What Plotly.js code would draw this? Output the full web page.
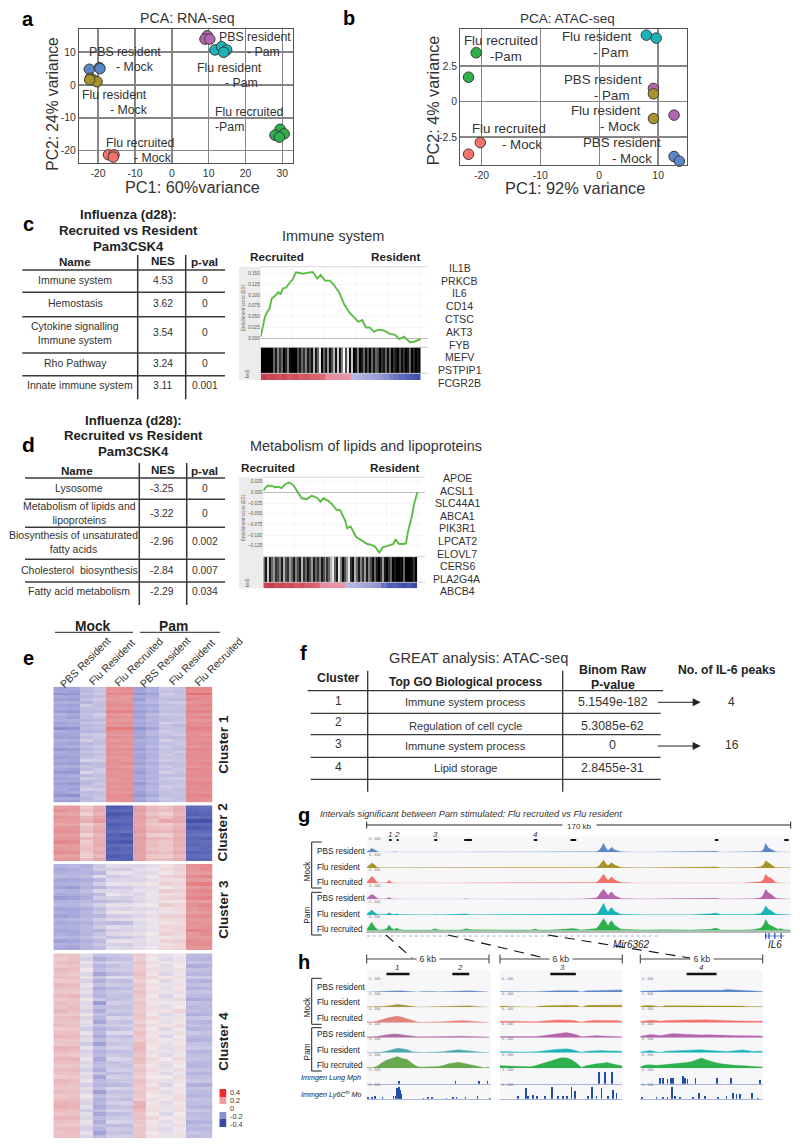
<!DOCTYPE html>
<html><head><meta charset="utf-8">
<script src="https://cdn.plot.ly/plotly-3.0.1.min.js"></script>
<style>html,body{margin:0;padding:0;background:#fff}#plot{width:800px;height:1147px}</style>
</head><body><div id="plot"></div>
<script>
// ---------- PCA values ----------
const rnaPbsMockX=[-22.4,-19.7,-19.5], rnaPbsMockY=[4.8,5.3,5.0];
const rnaFluMockX=[-22.1,-21.4,-20.3,-22.3], rnaFluMockY=[2.1,1.6,1.0,1.6];
const rnaPbsPamX=[9.6,9,10.3], rnaPbsPamY=[15,14,14];
const rnaFluPamX=[11.7,13.5,14.9,14.1], rnaFluPamY=[10.7,11.7,10.7,10];
const rnaRecPamX=[29.4,28,30.5,29.2], rnaRecPamY=[-13.5,-15.3,-14.9,-15.9];
const rnaRecMockX=[-17.2,-15.7,-15.9], rnaRecMockY=[-21.3,-21.3,-22];
const atacFluPamX=[8.0,9.66], atacFluPamY=[4.67,4.46];
const atacRecPamX=[-20.9,-22.2], atacRecPamY=[3.43,1.71];
const atacPbsPamX=[9.2,12.7], atacPbsPamY=[0.92,-0.96];
const atacFluMockX=[9.2,9.2], atacFluMockY=[0.54,-1.2];
const atacRecMockX=[-20.2,-22.2], atacRecMockY=[-2.89,-3.71];
const atacPbsMockX=[12.7,13.6], atacPbsMockY=[-3.87,-4.2];
// ---------- Tables ----------
const cNames=['Immune system','Hemostasis','Cytokine signalling<br>Immune system','Rho Pathway','Innate immune system'];
const cNes=['4.53','3.62','3.54','3.24','3.11'];
const cPval=['0','0','0','0','0.001'];
const dNames=['Lysosome','Metabolism of lipids and<br>lipoproteins','Biosynthesis of unsaturated<br>fatty acids','Cholesterol  biosynthesis','Fatty acid metabolism'];
const dNes=['-3.25','-3.22','-2.96','-2.84','-2.29'];
const dPval=['0','0','0.002','0.007','0.034'];
const fCluster=['1','2','3','4'];
const fProcess=['Immune system process','Regulation of cell cycle','Immune system process','Lipid storage'];
const fPvalue=['5.1549e-182','5.3085e-62','0','2.8455e-31'];
// ---------- GSEA ----------
const cRank=[0,1,2.7,4.2,5.4,6.9,9,11,12.5,13.8,15.8,17.9,20,22,24.2,26.3,28.8,32.5,35.4,37.5,40.2,43.3,45.8,49.2,52.1,55.8,59,61,63.5,65.8,68.3,70.8,73.5,77,80.8,84,86.7,89.6,93.3,95.8,100];
const cES=[.004,.023,.05,.062,.067,.092,.098,.106,.102,.115,.117,.127,.136,.152,.151,.149,.151,.153,.138,.146,.133,.133,.123,.105,.079,.058,.046,.038,.042,.025,.025,.015,.02,.018,.01,.008,-.002,.004,-.009,-.008,-.002];
const dRank=[0,1.7,3.2,5.4,7.6,9.7,11.9,14.1,16.9,19.5,21.6,24.9,28.1,31.4,34.6,37.2,39,42.2,44.4,47.6,49.8,53,54.5,56.7,60.2,63.9,67.5,70.3,72.5,75.3,77.5,81.2,84.4,85.9,87.7,89.8,92.6,94.2,96.3,97.8,100];
const dES=[.004,.012,.016,.015,.012,.013,.01,.019,.023,.017,.005,-.014,-.016,-.008,-.012,-.022,-.014,-.02,-.027,-.041,-.041,-.065,-.084,-.08,-.104,-.113,-.121,-.123,-.127,-.141,-.129,-.125,-.121,-.11,-.12,-.121,-.12,-.088,-.059,-.03,0];
const cHits=[1,1,1,1,1,1,.6,.9,.5,.8,.6,1,.85,.5,.95,1,1,1,.7,.9,.6,.8,.5,.9,.7,.95,.3,.9,.6,.1,1,.6,.9,.4,.95,.7,.3,.9,.2,.9,.5,0,.7,.1,.95,.2,1,.9,.5,1,.9,.6,.95,.7,1,.6,.9,.6,.7,1,.8,.9,.6,.95,.6,1,.8,.9,1,.7,.95,.8,1,.9,.6,1,.85,1,.9,1];
const dHits=[.6,.9,.2,.9,.6,.4,.8,.7,.5,.9,.3,.7,.8,.4,.6,.9,.5,.7,.9,.3,.8,.6,.9,.7,.4,.9,.6,.8,.5,.9,.7,.4,.8,.6,.3,.1,.6,.9,.1,.5,.95,.7,.4,.1,.8,.95,.3,.6,.9,.5,.8,.4,.9,.5,.7,.95,.6,.9,1,.8,.4,.9,1,.8,.6,1,.9,1,1,.95,1,.6,1,1,1,.95,.8,1];
const cRanked=[100,92,96,88,94,84,90,80,86,78,76,72,45,42,40,38,36,-22,-26,-30,-34,-38,-42,-50,-62,-70,-76,-84,-90,-96];
const dRanked=[96,100,92,96,88,92,84,88,80,76,72,45,42,40,38,36,-22,-26,-30,-34,-38,-42,-46,-70,-88,-84,-92,-96,-90,-100];
const cGenes=['IL1B','PRKCB','IL6','CD14','CTSC','AKT3','FYB','MEFV','PSTPIP1','FCGR2B'];
const dGenes=['APOE','ACSL1','SLC44A1','ABCA1','PIK3R1','LPCAT2','ELOVL7','CERS6','PLA2G4A','ABCB4'];
// ---------- Heatmap rows (hundredths) ----------
const heatCols=['PBS Resident','Flu Resident','Flu Recruited','PBS Resident','Flu Resident','Flu Recruited'];
const cluster1=[
[-21,-20,-14,-11,21,22,-21,-18,-10,-11,23,23],[-20,-21,-14,-11,20,21,-20,-17,-12,-13,22,22],
[-24,-23,-12,-9,23,23,-24,-21,-8,-11,27,27],[-19,-20,-15,-13,20,19,-19,-18,-11,-11,21,22],
[-21,-22,-12,-9,19,20,-22,-16,-13,-14,23,22],[-18,-18,-16,-12,21,20,-18,-15,-10,-9,20,21],
[-20,-21,-9,-13,22,22,-20,-19,-12,-12,22,23],[-19,-19,-13,-11,20,20,-19,-16,-11,-12,21,21],
[-22,-23,-14,-14,24,24,-22,-19,-13,-13,24,24],[-17,-19,-12,-8,20,19,-19,-14,-9,-10,21,20],
[-19,-21,-13,-11,21,20,-21,-16,-12,-12,22,23],[-18,-17,-15,-14,19,19,-18,-15,-13,-11,20,20],
[-21,-20,-11,-10,21,22,-20,-17,-7,-10,22,22],[-20,-19,-14,-13,20,20,-19,-16,-11,-14,22,21],
[-25,-24,-13,-12,25,25,-24,-20,-12,-12,24,24],[-18,-20,-16,-15,21,21,-20,-15,-9,-12,22,22],
[-20,-20,-10,-9,20,20,-19,-14,-11,-9,21,20],[-21,-21,-13,-10,22,21,-21,-18,-13,-13,22,22],
[-17,-18,-8,-12,19,20,-18,-16,-8,-11,21,21],[-20,-21,-14,-13,21,21,-20,-17,-12,-10,22,23],
[-19,-18,-12,-10,20,19,-19,-14,-10,-12,20,21],[-23,-22,-15,-12,22,22,-22,-18,-11,-13,23,23],
[-18,-20,-10,-9,20,20,-18,-15,-12,-9,21,22],[-20,-19,-14,-12,21,21,-20,-17,-10,-12,22,22],
[-22,-21,-12,-10,20,20,-21,-16,-11,-11,22,22],[-19,-20,-7,-8,21,20,-19,-15,-9,-10,21,21],
[-21,-22,-15,-14,21,22,-21,-18,-13,-12,22,23],[-18,-18,-11,-13,20,19,-18,-15,-10,-12,20,21],
[-20,-21,-13,-9,22,21,-20,-16,-12,-10,23,22],[-23,-23,-6,-10,20,21,-22,-17,-8,-11,21,22],
[-19,-18,-14,-12,21,20,-19,-15,-13,-13,22,22],[-21,-20,-9,-11,20,21,-20,-17,-10,-9,21,21],
[-18,-19,-13,-13,19,20,-18,-14,-11,-12,22,21],[-22,-23,-15,-10,21,21,-23,-18,-12,-11,23,23],
[-20,-20,-11,-12,20,20,-20,-16,-9,-10,21,22],[-19,-21,-8,-9,21,22,-19,-15,-11,-13,22,22],
[-21,-19,-14,-13,20,19,-21,-17,-12,-11,21,21],[-24,-25,-12,-11,22,22,-23,-19,-13,-12,23,24],
[-19,-19,-15,-10,21,21,-19,-15,-10,-12,22,22],[-21,-22,-13,-12,20,21,-21,-17,-11,-11,22,21]];
const cluster2=[
[18,19,8,14,-36,-35,17,11,9,14,-33,-32],[21,19,11,15,-34,-33,18,12,11,14,-34,-33],
[17,17,6,13,-37,-36,16,9,6,12,-35,-34],[20,20,12,16,-35,-34,18,12,10,15,-32,-33],
[19,19,14,19,-33,-33,17,10,16,15,-38,-38],[16,17,6,12,-36,-35,16,8,7,11,-34,-33],
[20,20,10,14,-34,-33,17,11,10,13,-36,-35],[22,21,11,16,-32,-31,19,13,12,15,-33,-33],
[18,18,5,12,-35,-36,16,7,6,12,-32,-31],[20,20,12,14,-34,-34,18,12,11,14,-34,-35],
[23,22,7,14,-36,-37,17,10,8,13,-33,-32],[18,19,9,15,-33,-32,17,11,9,14,-34,-33],
[20,19,10,13,-35,-34,18,9,8,12,-32,-33],[22,21,8,15,-33,-33,17,12,10,15,-35,-34],
[17,18,6,12,-36,-35,16,8,7,11,-33,-32],[19,20,11,16,-34,-35,18,11,11,14,-34,-34]];
const cluster3=[
[-16,-15,-17,-10,-4,-5,-6,-3,2,5,21,22],[-19,-18,-15,-9,-8,-9,-3,-1,4,6,20,22],
[-17,-16,-16,-15,-3,-2,-5,-4,1,4,19,19],[-14,-15,-13,-5,-9,-7,-4,0,5,7,22,24],
[-20,-19,-18,-14,-6,-5,-6,-3,3,3,20,19],[-18,-17,-15,-8,-2,-3,-2,1,6,5,24,25],
[-21,-22,-17,-16,-10,-9,-5,-4,0,3,18,20],[-16,-17,-13,-6,-5,-6,-3,-2,8,6,22,23],
[-19,-18,-16,-14,-1,-4,-6,-1,3,4,21,21],[-22,-21,-18,-9,-7,-8,-4,-2,5,6,23,24],
[-17,-16,-14,-15,-12,-10,-6,-3,1,2,19,18],[-15,-16,-12,-7,-3,-3,-2,0,7,5,21,23],
[-20,-20,-17,-13,-6,-7,-5,-4,2,4,20,21],[-18,-19,-15,-10,2,-1,-3,-1,-2,3,18,19],
[-21,-20,-16,-15,-9,-8,-6,-3,6,6,22,22],[-16,-15,-14,-8,-5,-4,-2,1,4,4,19,20],
[-19,-18,-17,-12,-14,-13,-5,-2,2,3,21,20],[-17,-17,-14,-9,-4,-6,-4,-1,5,5,20,21],
[-20,-19,-15,-16,-8,-7,-5,-3,3,5,24,23],[-18,-19,-16,-11,-5,-4,-3,0,6,4,20,22],
[-15,-16,-13,-8,-11,-10,-6,-2,1,3,19,19],[-21,-20,-17,-14,-3,-2,-4,-1,5,6,22,21],
[-17,-18,-15,-10,-7,-8,-5,-3,2,4,21,22],[-19,-20,-16,-13,-4,-6,-3,0,4,5,20,20]];
const cluster4=[
[9,9,-4,-12,-11,-10,8,2,-3,1,-14,-14],[7,9,-7,-18,-13,-12,6,0,-5,-2,-15,-16],
[10,11,-2,-10,-7,-8,9,3,-1,2,-11,-12],[8,9,-5,-16,-12,-10,7,1,-4,0,-18,-17],
[11,10,-1,-13,-9,-9,8,3,-3,2,-12,-13],[9,8,-6,-20,-14,-12,10,1,-6,-1,-15,-15],
[10,10,-3,-11,-5,-6,8,4,1,3,-9,-10],[7,8,-7,-17,-12,-13,6,0,-5,-1,-16,-17],
[12,11,-2,-12,-9,-10,9,2,-2,2,-13,-12],[9,10,-5,-19,-15,-13,7,1,-4,1,-17,-16],
[8,8,-3,-14,-10,-9,10,3,-2,3,-11,-11],[11,12,-6,-16,-11,-12,8,0,-6,-1,-14,-15],
[7,9,1,-10,-13,-11,6,2,-3,4,-19,-18],[10,9,-5,-22,-8,-9,9,1,-1,1,-12,-13],
[9,11,-4,-13,-12,-12,8,3,-4,0,-15,-14],[12,10,-7,-18,-10,-10,7,2,2,5,-13,-14],
[8,8,-2,-12,-14,-13,9,0,-5,-2,-18,-17],[10,11,-6,-15,-6,-7,8,4,-2,2,-11,-10],
[9,9,-3,-20,-11,-12,6,1,-3,1,-15,-16],[11,10,-5,-11,-9,-8,9,3,1,4,-12,-13],
[7,8,-8,-17,-13,-11,7,0,-5,-1,-16,-15],[10,10,-2,-14,-5,-5,10,2,-2,3,-10,-11],
[12,11,-6,-19,-12,-13,8,1,-6,0,-14,-14],[9,9,-4,-13,-8,-9,7,3,-1,2,-17,-16],
[8,9,-9,-21,-11,-10,11,2,-3,1,-12,-12],[13,12,-3,-12,-7,-8,12,0,-4,3,-9,-10],
[11,10,-7,-17,-13,-12,11,3,-2,2,-15,-16],[9,8,-5,-14,-10,-11,9,1,-5,-1,-13,-13],
[12,12,-2,-19,-6,-7,11,4,0,4,-11,-12],[10,10,-6,-15,-12,-10,10,2,-3,1,-14,-15],
[8,9,-4,-13,-10,-11,7,1,-4,0,-16,-15],[11,11,-7,-18,-8,-8,9,3,-2,3,-12,-12],
[9,10,-3,-11,-13,-12,8,2,-5,-1,-15,-16],[7,8,-5,-20,-7,-9,6,0,0,3,-13,-12],
[12,11,-2,-14,-11,-10,10,3,-3,2,-10,-11],[10,9,-8,-16,-14,-13,8,1,-6,0,-17,-18],
[9,9,-4,-12,-6,-7,7,4,-1,2,-12,-11],[11,10,-6,-21,-12,-11,9,2,-4,1,-14,-14],
[8,9,-1,-13,-9,-10,8,0,-2,3,-16,-15],[10,11,-5,-17,-11,-13,7,3,1,4,-11,-12],
[13,12,-7,-15,-8,-7,13,1,-5,-1,-13,-13],[14,13,-3,-19,-12,-11,14,2,-3,2,-15,-16],
[11,10,-9,-13,-7,-8,11,3,-2,3,-10,-11],[9,10,-4,-20,-13,-12,9,0,-6,0,-14,-14],
[12,12,-6,-14,-10,-9,10,4,-1,2,-12,-13],[10,9,-2,-18,-6,-7,8,1,-4,1,-17,-16],
[8,8,-5,-12,-14,-13,7,2,-2,3,-13,-12],[11,11,-7,-16,-9,-10,9,3,-5,-1,-15,-15],
[9,10,-3,-21,-11,-12,8,0,-3,2,-11,-12],[10,10,-6,-13,-8,-8,9,2,-2,2,-14,-13]];
const legendLevels=[[40],[20],[0],[-20],[-40]];
const legendText=['0.4','0.2','0','-0.2','-0.4'];
// ---------- Genome tracks ----------
const trackNames=['PBS resident','Flu resident','Flu recruited','PBS resident','Flu resident','Flu recruited'];
const gKb=[0,1,2,3,4,5,7,8,9,10,11,12,13,15,20,26,27.4,29,38,39.7,42,50,60,66,67.5,69,74,80,83,86,92,93,94,95,96,96.8,97.5,98.2,99.5,102,110,120,130,138,140,142,150,155,158,159,160,161,162,163,164,165,166,167,170];
const gPbsMock=[.03,.12,.27,.18,.05,.01,.01,.02,.04,.02,.01,.03,.01,.01,.01,.01,.03,.01,.01,.05,.01,.01,.01,.01,.02,.01,.01,.03,.03,.02,.04,.1,.3,.6,.25,.12,.2,.33,.15,.03,.01,.02,.01,.02,.07,.01,.01,.03,.06,.16,.6,.3,.2,.12,.04,.02,.02,.02,.01];
const gFluMock=[.04,.18,.33,.25,.07,.01,.01,.02,.05,.02,.01,.04,.01,.01,.02,.01,.04,.01,.01,.05,.01,.01,.01,.01,.02,.01,.01,.04,.04,.02,.04,.12,.33,.53,.26,.16,.27,.35,.2,.03,.01,.02,.01,.03,.07,.01,.01,.03,.08,.18,.49,.36,.25,.12,.04,.03,.02,.02,.01];
const gRecMock=[.06,.3,.47,.32,.1,.02,.02,.04,.2,.06,.02,.04,.02,.01,.01,.01,.03,.01,.01,.06,.02,.01,.01,.01,.02,.01,.01,.05,.05,.02,.06,.18,.42,.6,.35,.18,.34,.42,.22,.05,.01,.02,.01,.03,.06,.02,.01,.04,.1,.24,.6,.42,.36,.22,.06,.03,.03,.02,.01];
const gPbsPam=[.06,.22,.33,.25,.08,.02,.02,.03,.12,.04,.02,.03,.01,.01,.01,.02,.05,.01,.01,.04,.01,.01,.01,.01,.02,.01,.03,.04,.04,.02,.08,.25,.5,.67,.45,.25,.4,.5,.24,.05,.02,.03,.02,.03,.07,.02,.02,.04,.1,.28,.67,.44,.36,.24,.08,.05,.04,.03,.01];
const gFluPam=[.05,.2,.33,.2,.06,.02,.02,.05,.15,.05,.03,.08,.03,.01,.01,.01,.04,.01,.02,.07,.02,.02,.01,.01,.03,.01,.02,.05,.05,.02,.06,.2,.48,.78,.4,.2,.4,.5,.24,.05,.02,.03,.02,.08,.14,.03,.02,.04,.1,.26,.62,.38,.3,.18,.06,.05,.05,.03,.01];
const gRecPam=[.1,.3,.58,.3,.12,.05,.06,.14,.38,.16,.07,.18,.08,.04,.04,.04,.13,.04,.05,.13,.06,.04,.04,.05,.12,.04,.05,.12,.15,.05,.14,.32,.6,.82,.56,.32,.56,.66,.35,.1,.05,.07,.04,.1,.18,.05,.04,.07,.18,.36,.75,.45,.34,.26,.14,.1,.14,.07,.05];
const gIntervalStart=[9,12,27.1,39.1,67,81.7,139.6,167.4], gIntervalEnd=[10,12.8,28.3,42.2,68.4,84,141,169.2];
const gNumbers=['1','2','3','4'], gNumberKb=[9.4,12.1,27.6,67.5];
const geneKb=[0,118], il6Kb=[159.5,167.5], il6Exons=[160,161.3,163.6,166.2];
const hKb=[0,.25,.5,.75,1,1.25,1.5,1.75,2,2.25,2.5,2.75,3,3.25,3.5,3.75,4,4.25,4.5,4.75,5,5.25,5.5,5.75,6];
const h1PbsMock=[0,0,0,.02,.05,.07,.1,.08,.05,.01,0,.03,.05,.04,.01,.03,.05,.06,.07,.09,.08,.06,.03,.01,0];
const h1FluMock=[.03,.03,.03,.05,.09,.14,.18,.16,.12,.04,.02,.02,.03,.03,.03,.05,.06,.08,.1,.12,.1,.07,.03,.02,.01];
const h1RecMock=[.06,.05,.1,.22,.32,.38,.44,.36,.25,.1,.04,.03,.03,.04,.05,.07,.1,.12,.14,.14,.12,.08,.04,.03,.02];
const h1PbsPam=[.05,.05,.08,.14,.2,.24,.24,.2,.15,.08,.06,.06,.07,.09,.1,.1,.11,.11,.1,.09,.08,.06,.05,.04,.04];
const h1FluPam=[.02,.03,.02,.04,.12,.22,.3,.26,.2,.06,.02,.02,.03,.03,.04,.07,.12,.18,.2,.16,.12,.06,.03,.02,.02];
const h1RecPam=[.05,.04,.12,.38,.55,.66,.78,.66,.58,.3,.1,.08,.08,.1,.12,.18,.3,.36,.4,.34,.28,.22,.12,.04,.08];
const h2PbsMock=[.03,.02,.01,.02,0,.01,.02,.02,.05,.07,.1,.09,.09,.1,.1,.09,0,.08,.09,.1,.09,.1,.11,.13,.14];
const h2FluMock=[.08,.06,.03,.02,.01,.02,.02,.02,.08,.1,.12,.12,.14,.14,.13,.12,.01,.12,.13,.14,.14,.12,.13,.14,.13];
const h2RecMock=[.1,.08,.1,.1,.08,.06,.03,.06,.1,.14,.16,.18,.18,.18,.16,.12,.03,.12,.16,.16,.14,.14,.12,.14,.08];
const h2PbsPam=[.08,.08,.07,.08,.08,.06,.06,.08,.12,.16,.22,.26,.3,.34,.28,.2,.06,.1,.14,.14,.12,.1,.08,.06,.06];
const h2FluPam=[.08,.06,.05,.06,.05,.04,.04,.07,.1,.12,.18,.22,.26,.26,.22,.12,.03,.1,.12,.14,.14,.12,.12,.1,.1];
const h2RecPam=[.18,.16,.14,.12,.1,.08,.1,.18,.28,.4,.52,.6,.7,.7,.58,.35,.06,.18,.26,.3,.34,.38,.3,.22,.16];
const h3PbsMock=[.05,.05,.06,.08,.09,.1,.12,.12,.1,.08,.08,.08,.08,.1,.1,.12,.12,.16,.14,.14,.12,.08,.06,.05,.04];
const h3FluMock=[.05,.12,.12,.08,.03,.1,.1,.09,.09,.09,.1,.1,.1,.1,.12,.12,.12,.12,.1,.08,.08,.06,.05,.05,.04];
const h3RecMock=[.08,.12,.16,.14,.1,.14,.16,.16,.16,.18,.18,.2,.22,.2,.18,.16,.14,.14,.14,.12,.12,.1,.1,.1,.12];
const h3PbsPam=[.1,.16,.22,.18,.14,.2,.26,.26,.24,.22,.2,.2,.18,.2,.2,.18,.16,.16,.14,.14,.12,.1,.1,.1,.12];
const h3FluPam=[.05,.1,.14,.06,.03,.1,.12,.14,.14,.16,.16,.18,.2,.16,.14,.12,.1,.08,.12,.16,.18,.14,.08,.1,.1];
const h3RecPam=[.1,.22,.24,.2,.22,.25,.26,.28,.32,.38,.44,.56,.68,.56,.44,.36,.3,.24,.22,.2,.18,.16,.12,.1,.08];
const lung1Kb=[1.57,4.36,5.52,5.92], lung1H=[.2,.15,.15,.15];
const lung2Kb=[4.87,5.15,5.49], lung2H=[.8,.8,.8];
const lung3Kb=[.96,1.13,1.34,1.5,1.59,2.08,2.2,2.32,2.7,3.76,4.44,5.85], lung3H=[.35,.35,.33,.35,.35,.5,.4,.3,.35,.35,.35,.25];
const mono1Kb=[.08,.25,.39,.78,1.31,1.41,1.5,1.57,1.63,1.7,2.78,3.02,3.19,3.92,4.25,4.41,4.85,5.44,6.05], mono1H=[.1,.08,.15,.08,.15,.2,.7,.8,.6,.3,.05,.12,.08,.06,.1,.1,.08,.15,.05];
const mono2Kb=[.9,1.26,1.39,1.63,1.83,2.2,2.55,2.86,3.1,3.3,3.51,3.68,4.33,4.5,4.74,4.98,5.31,5.56,5.72], mono2H=[.15,.7,.2,.25,.2,.2,.8,.2,.2,.2,.8,.5,.2,.8,.2,.7,.2,.6,.4];
const mono3Kb=[.07,.8,1.13,1.34,1.54,1.7,1.94,2.57,2.89,3.17,3.82,4.23,4.56,4.72,4.89,5.46,5.78], mono3H=[.1,.08,.1,.1,.8,.2,.1,.1,.35,.15,.1,.15,.4,.3,.3,.35,.05];
const h1Start=[.97,4.2], h1End=[2.1,5.03], h2Start=[2.47], h2End=[3.72], h3Start=[2.27], h3End=[3.74];

// ---------- Layout helpers ----------
const W=800,H=1147,FONT='"Liberation Sans", Arial, sans-serif';
const COL={blue:'#5b87c9',olive:'#a89328',red:'#f4726a',pink:'#b565ad',teal:'#18b4b8',green:'#2eb14c'};
const trackCols=[COL.blue,COL.olive,COL.red,COL.pink,COL.teal,COL.green];
const dullCols=['#6a8cc4','#a8953c','#e2827a','#b06fa8','#4aa8ac','#6aa84f'];
const layout={width:W,height:H,margin:{l:0,r:0,t:0,b:0},paper_bgcolor:'#fff',plot_bgcolor:'rgba(0,0,0,0)',showlegend:false,font:{family:FONT,color:'#333'},annotations:[],shapes:[],bargap:0};
const traces=[];let axN=0;
function ax(x0,x1,y0,y1,xo,yo){axN++;const s=axN===1?'':axN;const base={showgrid:false,zeroline:false,showticklabels:false,ticks:'',showline:false,fixedrange:true};
 layout['xaxis'+s]=Object.assign({},base,{domain:[x0/W,x1/W],anchor:'y'+s},xo);
 layout['yaxis'+s]=Object.assign({},base,{domain:[1-y1/H,1-y0/H],anchor:'x'+s},yo);
 return {xaxis:'x'+s,yaxis:'y'+s};}
function T(text,x,y,size,o){o=o||{};layout.annotations.push({text:text,x:x/W,y:1-y/H,xref:'paper',yref:'paper',showarrow:false,xanchor:o.anchor||'center',yanchor:'middle',textangle:o.rot||0,font:{size:size,family:FONT,color:o.color||'#333'},bgcolor:o.bg,borderpad:o.pad===undefined?0:o.pad});}
function L(x0,y0,x1,y1,w,c,d){layout.shapes.push({type:'line',xref:'paper',yref:'paper',x0:x0/W,x1:x1/W,y0:1-y0/H,y1:1-y1/H,line:{width:w,color:c||'#333',dash:d||'solid'}});}
function R(x0,y0,x1,y1,c){layout.shapes.push({type:'rect',layer:'below',xref:'paper',yref:'paper',x0:x0/W,x1:x1/W,y0:1-y0/H,y1:1-y1/H,line:{width:0},fillcolor:c});}
function pts(a,x,y,c){traces.push(Object.assign({type:'scatter',mode:'markers',x:x,y:y,cliponaxis:false,marker:{size:10.5,color:c,line:{width:1,color:'#3a3a3a'}}},a));}
function arrow(x0,x1,y){L(x0,y,x1-7,y,1,'#222');layout.shapes.push({type:'path',xref:'paper',yref:'paper',line:{width:0},fillcolor:'#222',path:'M '+((x1-8)/W)+','+(1-(y-4)/H)+' L '+(x1/W)+','+(1-y/H)+' L '+((x1-8)/W)+','+(1-(y+4)/H)+' Z'});}

// ---------- Panel letters ----------
[['a',28,19],['b',349,18],['c',28,224],['d',28,444],['e',28,658],['f',303,653],['g',304,815],['h',304,962]].forEach(p=>T('<b>'+p[0]+'</b>',p[1],p[2],p[0]==='d'?21:20,{color:'#000'}));

// ---------- a ----------
const pcaX={showgrid:true,gridcolor:'#858585',gridwidth:1.5,showline:true,mirror:true,linecolor:'#555',linewidth:1.2,showticklabels:true,tickfont:{size:10.4,color:'#333'},ticklen:0};
const a1=ax(79,293,29.3,163,Object.assign({},pcaX,{range:[-25.2,32.9],tickvals:[-20,-10,0,10,20,30],ticktext:['-20','-10','0','10','20','30']}),Object.assign({},pcaX,{range:[-23.8,17],tickvals:[-20,-10,0,10],ticktext:['-20','-10','0','10']}));
pts(a1,rnaPbsMockX,rnaPbsMockY,COL.blue);pts(a1,rnaFluMockX,rnaFluMockY,COL.olive);pts(a1,rnaPbsPamX,rnaPbsPamY,COL.pink);pts(a1,rnaFluPamX,rnaFluPamY,COL.teal);pts(a1,rnaRecPamX,rnaRecPamY,COL.green);pts(a1,rnaRecMockX,rnaRecMockY,COL.red);
T('PCA: RNA-seq',187.3,18.3,14.2);T('PC1: 60%variance',192,187,16.3);T('PC2: 24% variance',52.7,104,15.6,{rot:-90});
[['PBS resident',125,51.7],['- Mock',135,67],['Flu resident',115,95],['- Mock',129.3,110],['PBS resident',255,36.7],['- Pam',263.3,51.7],['Flu resident',229.3,68],['- Pam',241,83.3],['Flu recruited',249.3,111.7],['-Pam',229.3,126.7],['Flu recruited',140,142.7],['- Mock',152.7,158]].forEach(t=>T(t[0],t[1],t[2],12.3));
// ---------- b ----------
const b1=ax(460.3,687,29.3,165,Object.assign({},pcaX,{range:[-23.6,14.9],tickvals:[-20,-10,0,10],ticktext:['-20','-10','0','10']}),Object.assign({},pcaX,{range:[-4.47,5.08],tickvals:[-2.5,0,2.5],ticktext:['-2.5','0','2.5']}));
pts(b1,atacFluPamX,atacFluPamY,COL.teal);pts(b1,atacRecPamX,atacRecPamY,COL.green);pts(b1,atacPbsPamX,atacPbsPamY,COL.pink);pts(b1,atacFluMockX,atacFluMockY,COL.olive);pts(b1,atacRecMockX,atacRecMockY,COL.red);pts(b1,atacPbsMockX,atacPbsMockY,COL.blue);
T('PCA: ATAC-seq',567.3,18.3,13.5);T('PC1: 92% variance',575,188,16.4);T('PC2: 4% variance',433.3,100,16.2,{rot:-90});
[['Flu recruited',501,40.7],['-Pam',506,56.7],['Flu resident',597.3,36.7],['- Pam',610,53],['PBS resident',603.3,79.7],['- Pam',611.7,96],['Flu resident',606,110.3],['- Mock',620,126.7],['Flu recruited',508.7,128.3],['- Mock',521.7,144.7],['PBS resident',621.7,142.3],['- Mock',632.3,158.3]].forEach(t=>T(t[0],t[1],t[2],13.3));

// ---------- tables c, d ----------
function titleBlock(cx,ys){['Influenza (d28):','Recruited vs Resident','Pam3CSK4'].forEach((s,i)=>T('<b>'+s+'</b>',cx,ys[i],13.2,{color:'#222'}));}
titleBlock(128.3,[214.3,230.3,246]);
L(137.7,255,137.7,399.3,1.5);L(185.7,255,185.7,399.3,1.5);
[270,292.3,316.7,353,375.7].forEach(y=>L(22.3,y,225,y,1.5,'#3a3a3a'));
T('<b>Name</b>',75,261.7,11.6,{color:'#222'});T('<b>NES</b>',162.7,260.7,11.6,{color:'#222'});T('<b>p-val</b>',205,261,11.6,{color:'#222'});
const cY=[280.3,303.3,333,363,385.3];
cNames.forEach((s,i)=>{T(s,i===4?80:75,cY[i],10.5);T(cNes[i],162.7,cY[i],10.3);T(cPval[i],205,cY[i],10.3);});
titleBlock(133,[420,435.7,451.7]);
L(139.3,463,139.3,605,1.5);L(186.7,463,186.7,605,1.5);
[478,499.3,527.3,559.3,582].forEach(y=>L(25,y,225,y,1.5,'#3a3a3a'));
T('<b>Name</b>',77,470,11.6,{color:'#222'});T('<b>NES</b>',163,469.5,11.6,{color:'#222'});T('<b>p-val</b>',205,470,11.6,{color:'#222'});
const dY=[488.3,513.3,541.7,570,591],dNX=[79,79,73,79,79];
dNames.forEach((s,i)=>{T(s,dNX[i],dY[i],10.5);T(dNes[i],161.7,dY[i],10.3);T(dPval[i],205,dY[i],10.3);});

// ---------- GSEA ----------
function gsea(o){
 R(239,o.top,o.x0,o.bottom,'#ececec');
 const curve=ax(o.x0,o.x2,o.top,o.cb,{range:o.xr,showgrid:true,gridcolor:'#f2f2f2',gridwidth:.7,tickvals:[0,20,40,60,80,100]},
  {range:o.yr,showgrid:true,gridcolor:'#f2f2f2',gridwidth:.7,zeroline:true,zerolinecolor:'#bdbdbd',zerolinewidth:1,showticklabels:true,tickvals:o.ticks,tickformat:'.3f',tickfont:{size:4.6,color:'#555'},ticklen:0,hoverformat:'.3f'});
 traces.push(Object.assign({type:'scatter',mode:'lines',x:o.rank,y:o.es,line:{color:'#5cbc45',width:1.9}},curve));
 const hits=ax(o.x0,o.x1,o.cb,o.hb,{range:[-.5,o.hits.length-.5]},{range:[-.5,.5]});
 traces.push(Object.assign({type:'heatmap',z:[o.hits],zmin:0,zmax:1,showscale:false,colorscale:[[0,'#fff'],[1,'#000']]},hits));
 const rk=ax(o.x0,o.x1,o.hb,o.bottom,{range:[-.5,o.ranked.length-.5]},{range:[-.5,.5]});
 traces.push(Object.assign({type:'heatmap',z:[o.ranked],zmin:-100,zmax:100,showscale:false,colorscale:[[0,'#3a4aa8'],[.25,'#8a8fd0'],[.44,'#c8c8ea'],[.56,'#eab0d2'],[.78,'#e67f8a'],[1,'#c8404c']]},rk));
 L(o.x0,o.top,o.x2,o.top,.7,'#cccccc');L(o.x0,o.cb,o.x2,o.cb,.7,'#bbbbbb');L(o.x0,o.hb,o.x2,o.hb,.7,'#bbbbbb');
 T(o.title,o.tx,o.ty,o.tsize);
 T('<b>Recruited</b>',o.recx,o.heady,11.7,{color:'#222'});T('<b>Resident</b>',o.resx,o.heady,11.7,{color:'#222'});
 T('Enrichment score (ES)',243,(o.top+o.cb)/2+1,4.6,{rot:-90,color:'#666'});T('ked)',247,o.hb+1,4.6,{rot:-90,color:'#666'});
 o.genes.forEach((g,i)=>T(g,o.gx,o.gy[i],10.6));
}
gsea({x0:260.7,x1:420.7,x2:428,top:266.7,cb:347.3,hb:373.3,bottom:380,xr:[0,104.6],yr:[-.0208,.1652],ticks:[0,.025,.05,.075,.1,.125,.15],rank:cRank,es:cES,hits:cHits,ranked:cRanked,title:'Immune system',tx:333,ty:235.7,tsize:14.5,recx:277,resx:395.7,heady:257,genes:cGenes,gx:460,gy:[267.7,280.5,293.3,306.1,318.9,331.7,344.5,357.3,370.1,383]});
gsea({x0:263.3,x1:417.3,x2:425,top:477.3,cb:556.7,hb:582.3,bottom:588.3,xr:[0,105],yr:[-.1508,.0352],ticks:[.025,0,-.025,-.05,-.075,-.1,-.125],rank:dRank,es:dES,hits:dHits,ranked:dRanked,title:'Metabolism of lipids and lipoproteins',tx:366,ty:445.7,tsize:14.4,recx:267.5,resx:394.5,heady:467.7,genes:dGenes,gx:457,gy:[478,490.6,503.2,515.8,528.4,541,553.6,566.2,578.8,591.4]});

// ---------- e heatmap ----------
const heatScale=[[0,'#3a4aa6'],[.25,'#a5a7da'],[.5,'#f1e8ec'],[.75,'#e4979a'],[1,'#e8282c']];
[[cluster1,686.7,802.3],[cluster2,805.3,861],[cluster3,864,950],[cluster4,953.3,1138.3]].forEach(c=>{
 const a=ax(53.3,212.7,c[1],c[2],{range:[-.5,11.5]},{autorange:'reversed'});
 traces.push(Object.assign({type:'heatmap',z:c[0],zmin:-40,zmax:40,showscale:false,colorscale:heatScale},a));
});
T('<b>Mock</b>',93.3,626,13.8,{color:'#222'});T('<b>Pam</b>',173,626,13.8,{color:'#222'});
L(55,632.3,133,632.3,1,'#222');L(140,632.3,220,632.3,1,'#222');
const colX=[85.3,111.7,138.3,165,191.7,218];
heatCols.forEach((s,i)=>T(s,colX[i],662,10.6,{rot:-45}));
[['Cluster 1',744],['Cluster 2',831.7],['Cluster 3',909],['Cluster 4',1041]].forEach(c=>T('<b>'+c[0]+'</b>',222.7,c[1],13.6,{rot:-90,color:'#222'}));
const lg=ax(219.3,226.7,1089,1127,{range:[-.5,.5]},{autorange:'reversed'});
traces.push(Object.assign({type:'heatmap',z:legendLevels,zmin:-40,zmax:40,showscale:false,colorscale:[[0,'#3a4aa8'],[.25,'#8f8fcb'],[.5,'#ffffff'],[.75,'#f49a9c'],[1,'#ee2b2f']]},lg));
[1092.7,1100.7,1108.3,1116,1124.3].forEach((y,i)=>T(legendText[i],229,y,7.3,{anchor:'left'}));

// ---------- f ----------
T('GREAT analysis: ATAC-seq',478,658,14.7);
L(367.7,670.7,367.7,791.7,1.3);L(562.7,670.7,562.7,791.7,1.3);
L(307.7,690.7,663,690.7,1.3);
[713.3,734.7,757.3,779.3].forEach(y=>L(310.7,y,660.7,y,1.3,'#3a3a3a'));
T('<b>Cluster</b>',338.7,678,12.3,{color:'#222'});T('<b>Top GO Biological process</b>',465.7,682.3,12,{color:'#222'});
T('<b>Binom Raw</b>',612.7,670,12.3,{color:'#222'});T('<b>P-value</b>',612.7,685,12.3,{color:'#222'});T('<b>No. of IL-6 peaks</b>',726.7,670,12.2,{color:'#222'});
const fCy=[700.7,721.7,744.3,766.7],fPy=[702.3,725.7,746.3,768],fVy=[701.7,725.7,745.3,768];
fCluster.forEach((s,i)=>{T(s,338.7,fCy[i],12);T(fProcess[i],465.7,fPy[i],11.1);T(fPvalue[i],612.7,fVy[i],12.4);});
arrow(657.7,700.7,702.3);arrow(657.7,700.7,746);
T('4',731.7,702,12);T('16',732.3,745,12);

// ---------- g ----------
T('<i>Intervals significant between Pam stimulated: Flu recruited vs Flu resident</i>',319.3,814.3,9.25,{anchor:'left'});
L(366.7,825,790.7,825,1,'#222');L(366.7,821.5,366.7,828.5,1,'#222');L(790.7,821.5,790.7,828.5,1,'#222');
T('170 kb',579.7,826,8,{bg:'#fff',pad:4});
R(366.7,836.7,790.7,931,'#f7f7fa');
const gHead=ax(366.7,790.7,837,843,{range:[0,170]},{range:[0,1]});
function segs(s,e){const xs=[],ys=[];s.forEach((v,i)=>{xs.push(v,e[i],null);ys.push(.5,.5,null);});return {x:xs,y:ys};}
traces.push(Object.assign({type:'scatter',mode:'lines',line:{color:'#111',width:1.8}},segs(gIntervalStart,gIntervalEnd),gHead));
const gBase=[852.3,868,883.3,899.3,915,930.7];
[gPbsMock,gFluMock,gRecMock,gPbsPam,gFluPam,gRecPam].forEach((v,i)=>{
 const a=ax(366.7,790.7,gBase[i]-15,gBase[i],{range:[0,170]},{range:[0,1]});
 traces.push(Object.assign({type:'scatter',mode:'lines',x:gKb,y:v,fill:'tozeroy',fillcolor:trackCols[i],line:{color:trackCols[i],width:.35},cliponaxis:false,opacity:.92},a));
 T('0 - 100',368,gBase[i]-13.5,3.6,{anchor:'left',color:'#666'});
});
L(366.7,932,790.7,932,2,'#b9b9b9');
const gene=ax(366.7,790.7,933,939,{range:[0,170]},{range:[0,1]});
traces.push(Object.assign({type:'scatter',mode:'lines',x:geneKb,y:[.5,.5],line:{color:'#7f9bd8',width:.8,dash:'dot'}},gene));
traces.push(Object.assign({type:'scatter',mode:'lines',x:il6Kb,y:[.5,.5],line:{color:'#3a63c4',width:.8}},gene));
traces.push(Object.assign({type:'scatter',mode:'markers',x:il6Exons,y:[.5,.5,.5,.5],marker:{symbol:'line-ns',size:5,color:'#2a55c0',line:{width:1.3,color:'#2a55c0'}}},gene));
gNumberKb.forEach((k,i)=>T('<i>'+gNumbers[i]+'</i>',366.7+k*424/170,834,8));
T('<i>Mir6362</i>',631,944,10,{color:'#222'});T('<i>IL6</i>',775,944,10,{color:'#222'});
const gLab=[851.7,867,882.7,898.7,914.3,929.7];
trackNames.forEach((s,i)=>T(s,316,gLab[i],8.2,{anchor:'left',color:'#222'}));
function bracket(y0,y1){L(321.7,y0,311.7,y0,1,'#222');L(311.7,y0,311.7,y1,1,'#222');L(311.7,y1,321.7,y1,1,'#222');}
bracket(842,888);bracket(892.3,935);
T('Mock',306.7,870.7,8.3,{rot:-90,color:'#222'});T('Pam',306.7,915,8.3,{rot:-90,color:'#222'});

// ---------- connectors ----------
L(386,935,412,958,1.1,'#111','10px,7px');L(448,935,545,958,1.1,'#111','10px,7px');L(548,935,690,958,1.1,'#111','10px,7px');

// ---------- h ----------
const hCols=[{x0:366.7,x1:490.7,end:489,s:h1Start,e:h1End,n:['1','2'],nx:[397.3,459.7],cols:dullCols,t:[h1PbsMock,h1FluMock,h1RecMock,h1PbsPam,h1FluPam,h1RecPam],l:[lung1Kb,lung1H],m:[mono1Kb,mono1H]},
 {x0:500,x1:622.3,end:622.3,s:h2Start,e:h2End,n:['3'],nx:[562],cols:trackCols,t:[h2PbsMock,h2FluMock,h2RecMock,h2PbsPam,h2FluPam,h2RecPam],l:[lung2Kb,lung2H],m:[mono2Kb,mono2H]},
 {x0:640.3,x1:762.7,end:762.7,s:h3Start,e:h3End,n:['4'],nx:[701.3],cols:trackCols,t:[h3PbsMock,h3FluMock,h3RecMock,h3PbsPam,h3FluPam,h3RecPam],l:[lung3Kb,lung3H],m:[mono3Kb,mono3H]}];
const hBase=[992,1007.3,1022.7,1037.7,1052.7,1068.3];
hCols.forEach(c=>{
 const xr=[0,6*(c.x1-c.x0)/(c.end-c.x0)];
 R(c.x0,970,c.x1,1098.7,'#f7f7fa');
 L(c.x0,959,c.end,959,1.1,'#444');L(c.x0,954.5,c.x0,963.5,1.1,'#444');L(c.end,954.5,c.end,963.5,1.1,'#444');
 T('6 kb',(c.x0+c.end)/2,958.5,8.8,{bg:'#fff',pad:2.5});
 const head=ax(c.x0,c.x1,971,977,{range:xr},{range:[0,1]});
 traces.push(Object.assign({type:'scatter',mode:'lines',line:{color:'#111',width:2.7}},segs(c.s,c.e),head));
 c.n.forEach((s,i)=>T('<i>'+s+'</i>',c.nx[i],967.3,8));
 c.t.forEach((v,i)=>{
  const a=ax(c.x0,c.x1,hBase[i]-15,hBase[i],{range:xr},{range:[0,1]});
  traces.push(Object.assign({type:'scatter',mode:'lines',x:hKb,y:v,fill:'tozeroy',fillcolor:c.cols[i],line:{color:c.cols[i],width:.35},opacity:.92},a));
  T('0 - 100',c.x0+1,hBase[i]-13.5,3.6,{anchor:'left',color:'#666'});
 });
 [[c.l,1083.7],[c.m,1098.7]].forEach(b=>{
  const a=ax(c.x0,c.x1,b[1]-15,b[1],{range:xr,showline:true,linecolor:'#8fa2d8',linewidth:.8},{range:[0,1]});
  traces.push(Object.assign({type:'bar',x:b[0][0],y:b[0][1],width:.085,marker:{color:'#1f4fa8',line:{width:0}}},a));
  T('0 - 100',c.x0+1,b[1]-13.5,3.6,{anchor:'left',color:'#666'});
 });
});
trackNames.forEach((s,i)=>T(s,316,[987.3,1003,1018.7,1034.3,1050,1065.7][i],8.2,{anchor:'left',color:'#222'}));
bracket(978.3,1024.3);bracket(1027.7,1071);
T('Mock',306.7,1006.7,8.3,{rot:-90,color:'#222'});T('Pam',306.7,1051.7,8.3,{rot:-90,color:'#222'});
T('<i>Immgen Lung Mph</i>',361.7,1077.7,7.2,{anchor:'right',color:'#222'});
T('<i>Immgen Ly6C<sup>hi</sup> Mo</i>',362.7,1094,7.2,{anchor:'right',color:'#222'});

Plotly.newPlot('plot',traces,layout,{displayModeBar:false,staticPlot:true});
</script></body></html>
